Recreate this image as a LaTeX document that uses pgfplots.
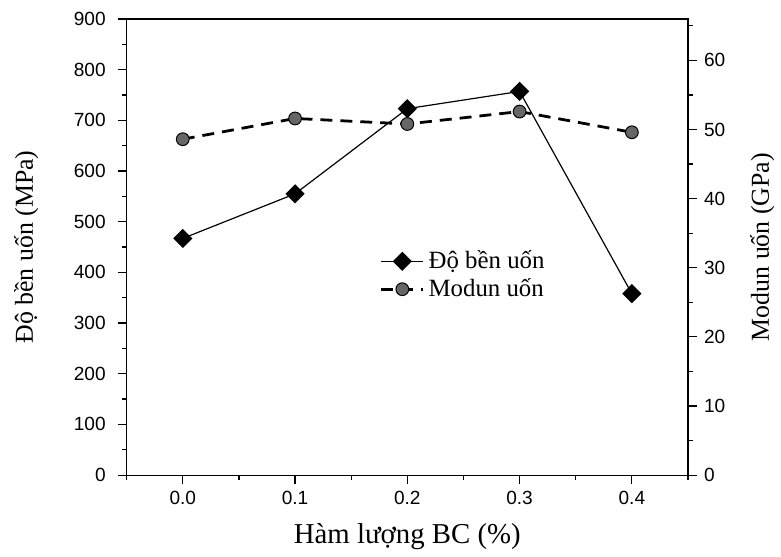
\documentclass[border=0pt]{standalone}
\usepackage{fontspec}
\setmainfont{Liberation Serif}
\setsansfont{Liberation Sans}
\usepackage{pgfplots}
\pgfplotsset{compat=1.18}

\begin{document}
\begin{tikzpicture}
\pgfplotsset{
  common/.style={
    scale only axis, width=281.5bp, height=228.75bp,
    xmin=-0.05, xmax=0.45,
    tick align=outside,
    major tick length=4.5bp, minor tick length=2.3bp,
    tick style={black, line width=0.6pt},
    axis line style={line width=0.6pt},
    tick label style={font=\sffamily\fontsize{9.6}{11}\selectfont},
    /pgf/number format/assume math mode=true,
    ylabel style={font=\fontsize{13}{15}\selectfont},
    xlabel style={font=\fontsize{14.5}{16}\selectfont},
  }
}
% left axis: flexural strength
\begin{axis}[common, name=ax1,
  ymin=0, ymax=900,
  ytick={0,100,...,900}, minor ytick={50,150,...,850},
  xtick={0,0.1,0.2,0.3,0.4},
  minor xtick={-0.05,0.05,0.15,0.25,0.35,0.45},
  xticklabel style={/pgf/number format/.cd, fixed, fixed zerofill, precision=1},
  yticklabel style={xshift=-2.5bp},
  xtick pos=bottom, ytick pos=left,
  xlabel={Hàm lượng BC (\%)}, ylabel={Độ bền uốn (MPa)},
  xlabel shift=2.5pt, ylabel shift=11pt,
]
\addplot[black, line width=0.6pt, mark=square*, mark size=3.1bp,
  mark options={rotate=45, solid}] coordinates {
  (0.0,467) (0.1,555) (0.2,723) (0.3,757) (0.4,358)
};
\end{axis}
% right axis: flexural modulus
\begin{axis}[common,
  axis y line*=right, axis x line=none,
  ymin=0, ymax=66,
  ytick={0,10,...,60}, minor ytick={5,15,...,65},
  ylabel={Modun uốn (GPa)}, ylabel shift=5.7pt,
  legend style={at={(0.44,0.51)}, anchor=north west, draw=none, fill=none,
    font=\fontsize{12.5}{13.5}\selectfont, row sep=-0.5pt,
    nodes={inner xsep=2bp}},
  legend cell align=left,
  legend image code/.code={\draw[mark repeat=2, mark phase=2, #1]
    plot coordinates {(0bp,0bp) (10.5bp,0bp) (21bp,0bp)};},
]
\addlegendimage{black, line width=0.6pt, mark=square*, mark size=3.1bp,
  mark options={rotate=45, solid}}
\addlegendentry{Độ bền uốn}
\addplot[black, line width=1.4pt, dash pattern=on 6bp off 4bp,
  mark=*, mark size=3.2bp,
  mark options={solid, fill=black!60, draw=black, line width=0.5pt}] coordinates {
  (0.0,48.6) (0.1,51.6) (0.2,50.8) (0.3,52.6) (0.4,49.6)
};
\addlegendentry{Modun uốn}
\end{axis}
% white margin as in the reference
\path (ax1.north west) ++(-63.5bp,9.5bp);
\end{tikzpicture}
\end{document}
